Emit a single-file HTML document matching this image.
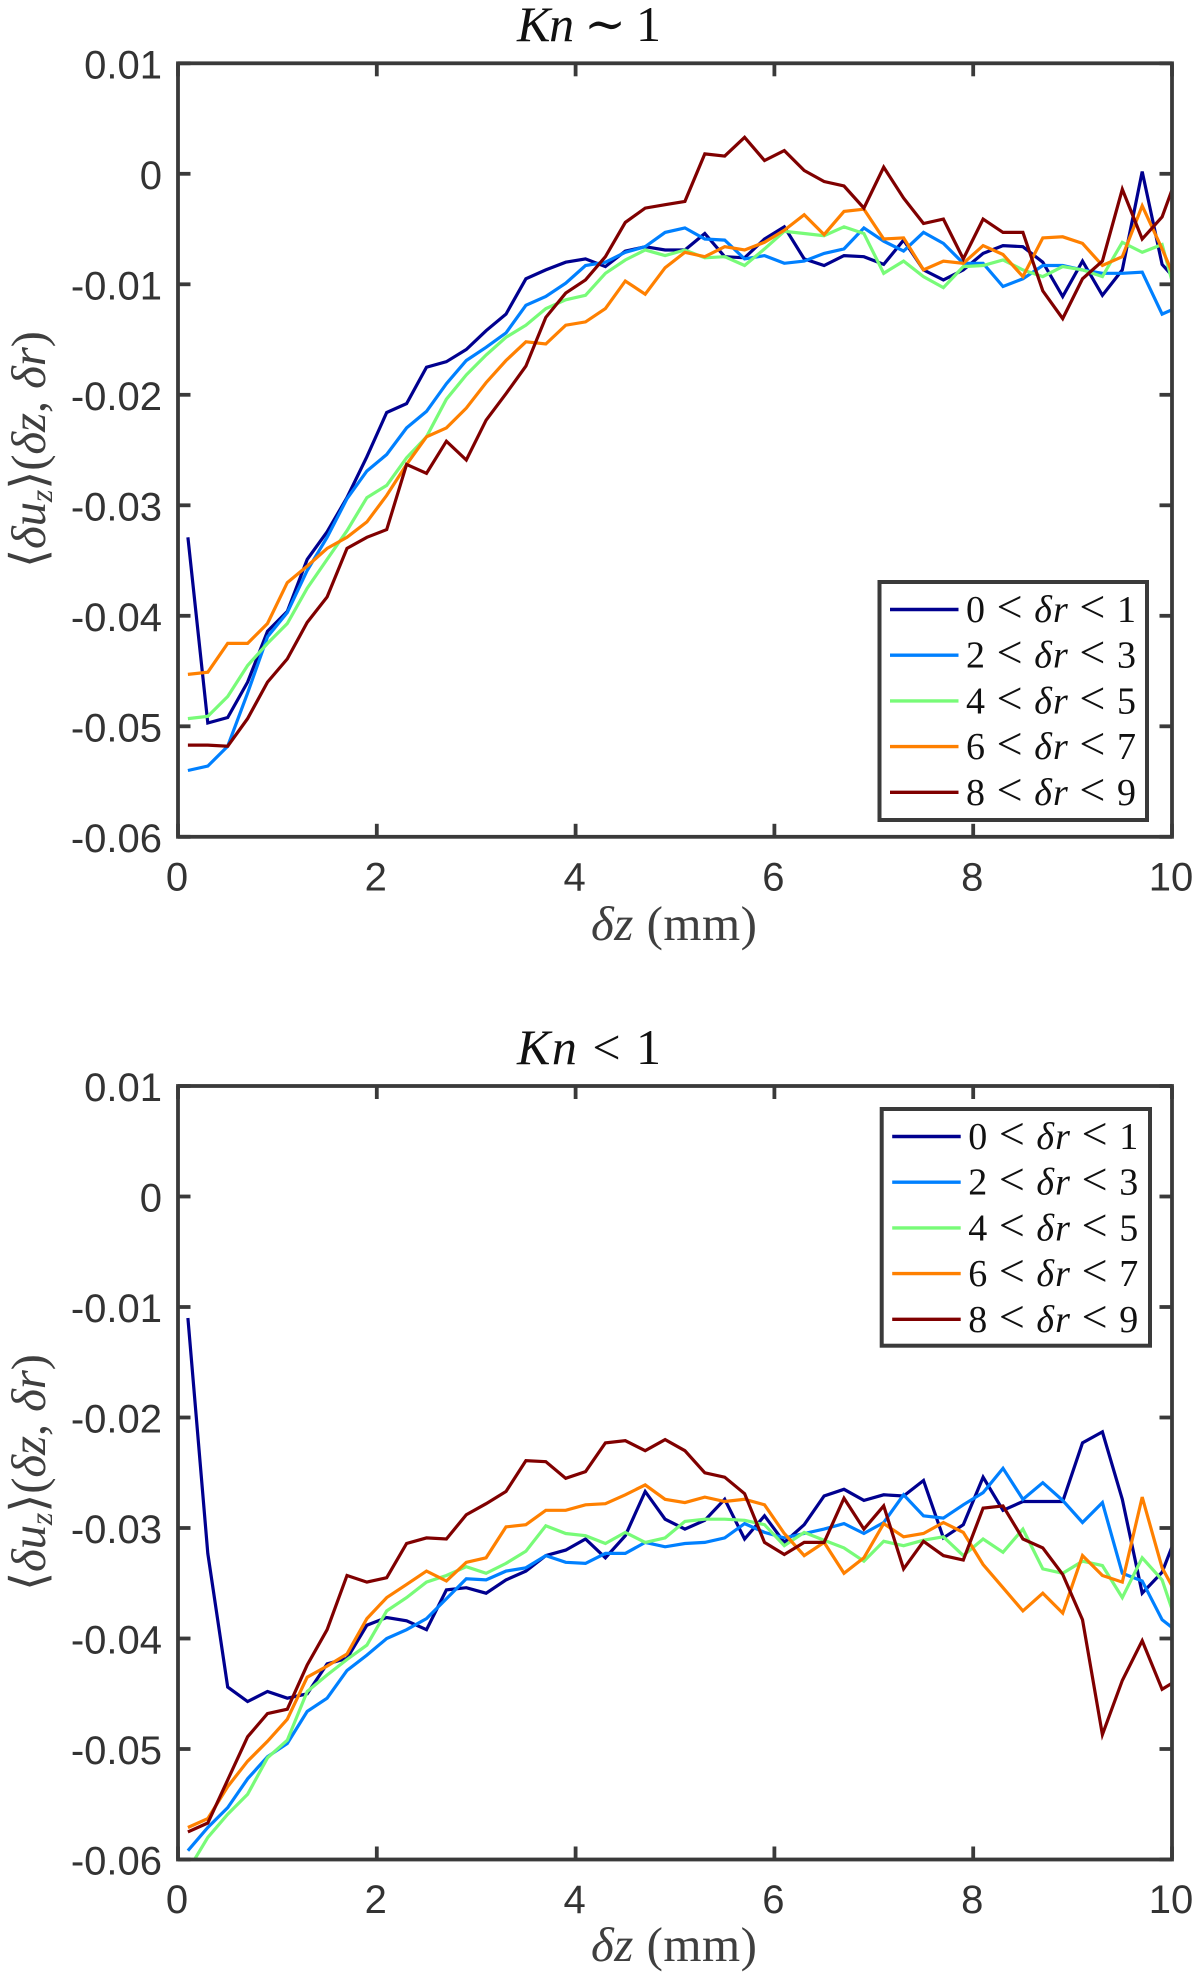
<!DOCTYPE html>
<html lang="en">
<head>
<meta charset="utf-8">
<title>Velocity structure functions for two Knudsen regimes</title>
<style>
html,body{margin:0;padding:0;background:#fff;}
svg{display:block;}
.tick{font-family:"Liberation Sans",sans-serif;font-size:40px;fill:#333;}
.math{font-family:"Liberation Serif","DejaVu Serif",serif;fill:#3f3f3f;}
.title{font-family:"Liberation Serif","DejaVu Serif",serif;font-size:50px;fill:#111;}
.leg{font-family:"Liberation Serif","DejaVu Serif",serif;font-size:38px;fill:#111;}
.it{font-style:italic;}
</style>
</head>
<body>
<svg id="figure" xmlns="http://www.w3.org/2000/svg" width="1200" height="1977" viewBox="0 0 1200 1977">
  <rect width="1200" height="1977" fill="#fff"/>
  <defs>
    <clipPath id="clip-top"><rect x="178" y="63.3" width="994" height="773.5"/></clipPath>
    <clipPath id="clip-bottom"><rect x="178" y="1086" width="994" height="773.5"/></clipPath>
  </defs>
  <g id="panel-top">
    <text class="title" x="517" y="41" textLength="144" lengthAdjust="spacing"><tspan class="it">Kn</tspan> ∼ 1</text>
    <text class="math" x="591" y="940" font-size="49" textLength="166" lengthAdjust="spacing"><tspan class="it">δz</tspan> (mm)</text>
    <text class="math" transform="translate(45,568) rotate(-90)" font-size="49" textLength="237" lengthAdjust="spacing">⟨<tspan class="it">δu</tspan><tspan class="it" font-size="32" dy="7">z</tspan><tspan dy="-7">⟩(</tspan><tspan class="it">δz</tspan>, <tspan class="it">δr</tspan>)</text>
  </g>
  <g id="panel-bottom">
    <text class="title" x="517" y="1064" textLength="144" lengthAdjust="spacing"><tspan class="it">Kn</tspan> &lt; 1</text>
    <text class="math" x="591" y="1961" font-size="49" textLength="166" lengthAdjust="spacing"><tspan class="it">δz</tspan> (mm)</text>
    <text class="math" transform="translate(45,1591) rotate(-90)" font-size="49" textLength="237" lengthAdjust="spacing">⟨<tspan class="it">δu</tspan><tspan class="it" font-size="32" dy="7">z</tspan><tspan dy="-7">⟩(</tspan><tspan class="it">δz</tspan>, <tspan class="it">δr</tspan>)</text>
  </g>
</svg>
<script>
var xTicks = [0, 2, 4, 6, 8, 10];
var xTickLabels = ['0', '2', '4', '6', '8', '10'];
var yTicks = [0.01, 0, -0.01, -0.02, -0.03, -0.04, -0.05, -0.06];
var yTickLabels = ['0.01', '0', '-0.01', '-0.02', '-0.03', '-0.04', '-0.05', '-0.06'];
var deltaZ = [0.1,0.3,0.5,0.7,0.9,1.1,1.3,1.5,1.7,1.9,2.1,2.3,2.5,2.7,2.9,3.1,3.3,3.5,3.7,3.9,4.1,4.3,4.5,4.7,4.9,5.1,5.3,5.5,5.7,5.9,6.1,6.3,6.5,6.7,6.9,7.1,7.3,7.5,7.7,7.9,8.1,8.3,8.5,8.7,8.9,9.1,9.3,9.5,9.7,9.9,10.1];
var seriesNames = ['0-to-1', '2-to-3', '4-to-5', '6-to-7', '8-to-9'];
var seriesLow = ['0', '2', '4', '6', '8'];
var seriesHigh = ['1', '3', '5', '7', '9'];
var seriesColors = ['#00008f', '#0080ff', '#78fb78', '#ff8000', '#800000'];

/* values in units of 0.001 */
var topR01 = [-32.9,-49.7,-49.2,-46,-41.4,-39.6,-34.9,-32.4,-29.3,-25.6,-21.6,-20.8,-17.5,-17,-15.9,-14.2,-12.7,-9.5,-8.7,-8.0,-7.7,-8.4,-7.0,-6.6,-6.9,-6.9,-5.4,-7.5,-7.6,-5.9,-4.8,-7.7,-8.3,-7.4,-7.5,-8.2,-6.0,-8.7,-9.6,-8.7,-7.2,-6.5,-6.6,-8.0,-11.1,-7.9,-11.0,-8.7,0.2,-8.2,-10.2];
var topR23 = [-54.0,-53.6,-51.8,-47,-41.9,-39.7,-35.9,-32.9,-29.4,-26.9,-25.4,-23.0,-21.5,-19,-16.9,-15.7,-14.4,-11.9,-11.1,-9.9,-8.3,-8.0,-7.1,-6.6,-5.3,-4.9,-5.9,-6.0,-7.7,-7.4,-8.1,-7.9,-7.2,-6.8,-4.9,-6.1,-7.0,-5.3,-6.3,-8.1,-8.1,-10.2,-9.5,-8.3,-8.3,-8.7,-9.0,-9.0,-8.9,-12.7,-11.9];
var topR45 = [-49.3,-49.1,-47.3,-44.5,-42.5,-40.7,-37.5,-34.9,-32.3,-29.3,-28.2,-25.7,-23.8,-20.4,-18.2,-16.4,-14.8,-13.7,-12.2,-11.4,-11.0,-9.0,-7.8,-6.9,-7.4,-6.9,-7.6,-7.5,-8.3,-6.8,-5.2,-5.4,-5.6,-4.8,-5.4,-9.0,-7.9,-9.3,-10.3,-8.4,-8.3,-7.8,-8.7,-9.3,-8.4,-8.7,-9.3,-6.2,-7.1,-6.4,-13];
var topR67 = [-45.3,-45.1,-42.5,-42.5,-40.7,-37,-35.5,-33.9,-32.9,-31.5,-29.1,-26.3,-23.8,-23,-21.2,-18.9,-16.9,-15.2,-15.4,-13.7,-13.4,-12.2,-9.7,-10.9,-8.5,-7.1,-7.5,-6.6,-6.9,-6.2,-5.1,-3.7,-5.5,-3.4,-3.2,-5.9,-5.8,-8.7,-7.9,-8.1,-6.5,-7.3,-9.3,-5.8,-5.7,-6.3,-8.3,-7.5,-2.9,-6.8,-11];
var topR89 = [-51.7,-51.7,-51.8,-49.3,-46,-43.9,-40.6,-38.3,-33.9,-32.9,-32.2,-26.3,-27.1,-24.2,-25.9,-22.3,-19.9,-17.4,-13,-10.8,-9.6,-7.5,-4.4,-3.1,-2.8,-2.5,1.8,1.6,3.3,1.2,2.1,0.3,-0.7,-1.1,-3.1,0.6,-2.2,-4.5,-4.1,-7.7,-4.1,-5.3,-5.3,-10.6,-13.1,-9.5,-7.9,-1.4,-5.9,-3.9,1.0];

var botR01 = [-11.0,-32.3,-44.4,-45.7,-44.8,-45.4,-45,-42.3,-41.8,-38.8,-38.1,-38.4,-39.2,-35.6,-35.4,-35.9,-34.7,-33.9,-32.5,-32,-31,-32.7,-30.7,-26.7,-29.2,-30.1,-29.3,-27.4,-31,-28.9,-31.3,-29.7,-27.1,-26.5,-27.5,-27,-27.1,-25.7,-30.9,-29.7,-25.4,-28.4,-27.6,-27.6,-27.6,-22.3,-21.3,-27.4,-35.9,-34,-29.4];
var botR23 = [-59.2,-57.1,-55.3,-52.7,-50.7,-49.5,-46.6,-45.4,-42.9,-41.5,-40,-39.2,-38.2,-36.4,-34.6,-34.7,-33.9,-33.6,-32.5,-33.1,-33.2,-32.3,-32.3,-31.3,-31.7,-31.4,-31.3,-30.9,-29.6,-30.4,-30.9,-30.5,-30.1,-29.6,-30.5,-29.5,-27,-28.9,-29.1,-27.9,-26.8,-24.6,-27.4,-25.9,-27.5,-29.5,-27.7,-34.1,-34.8,-38.3,-39.7];
var botR45 = [-61,-58,-55.9,-54.1,-50.8,-49.2,-44.8,-43.3,-41.9,-40.6,-37.5,-36.3,-34.9,-34.3,-33.5,-34.1,-33.2,-32.1,-29.8,-30.5,-30.7,-31.4,-30.4,-31.3,-30.9,-29.4,-29.2,-29.2,-29.3,-29.7,-31.6,-30.4,-31.1,-31.8,-33,-31.2,-31.6,-31.1,-30.8,-32.5,-31,-32.2,-30.1,-33.7,-34.1,-33,-33.4,-36.3,-32.7,-34.7,-40];
var botR67 = [-57.1,-56.3,-53.4,-51.1,-49.3,-47.3,-43.5,-42.5,-41.4,-38.2,-36.3,-35.1,-33.9,-34.8,-33.1,-32.7,-29.9,-29.7,-28.4,-28.4,-27.9,-27.8,-27,-26.1,-27.4,-27.7,-27.2,-27.6,-27.4,-27.9,-30.5,-32.5,-31.3,-34.1,-32.7,-29.6,-30.8,-30.5,-29.5,-30.4,-33.3,-35.4,-37.5,-35.9,-37.7,-32.5,-34.3,-34.9,-27.2,-33.6,-36.9];
var botR89 = [-57.5,-56.7,-52.8,-48.9,-46.8,-46.4,-42.4,-39.2,-34.3,-34.9,-34.5,-31.4,-30.9,-31,-28.8,-27.8,-26.7,-23.9,-24,-25.5,-24.9,-22.3,-22.1,-23,-22,-23,-25,-25.4,-26.9,-31.3,-32.4,-31.3,-31.3,-27.3,-30.1,-28,-33.7,-31.2,-32.5,-32.9,-28.2,-28,-31,-31.8,-34.2,-38.3,-48.7,-43.8,-40.2,-44.6,-43.5];

var topSeries = [topR01, topR23, topR45, topR67, topR89];
var botSeries = [botR01, botR23, botR45, botR67, botR89];

var NS = 'http://www.w3.org/2000/svg';
var AXIS_COLOR = '#3a3a3a';
var AXIS_W = 3.8;
var PLOT_L = 178, PLOT_R = 1172;

function xScale(v) { return PLOT_L + (v / 10) * (PLOT_R - PLOT_L); }
function yScaleFor(top, bottom) {
  return function (v) { return top + ((0.01 - v) / 0.07) * (bottom - top); };
}
function line(parent, x1, y1, x2, y2, color, w) {
  var l = document.createElementNS(NS, 'line');
  l.setAttribute('x1', x1);
  l.setAttribute('y1', y1);
  l.setAttribute('x2', x2);
  l.setAttribute('y2', y2);
  l.setAttribute('stroke', color);
  l.setAttribute('stroke-width', w);
  parent.appendChild(l);
  return l;
}
function addLess(parent) {
  var lt = document.createElementNS(NS, 'tspan');
  lt.setAttribute('font-size', '46');
  lt.textContent = '<';
  parent.appendChild(lt);
}

function drawPanel(groupId, clipId, top, bottom, series, legend) {
  var g = document.getElementById(groupId);
  var y = yScaleFor(top, bottom);
  var i, t, el;

  var linesG = document.createElementNS(NS, 'g');
  
  
  linesG.setAttribute('clip-path', 'url(#' + clipId + ')');
  g.appendChild(linesG);

  series.forEach(function (vals, s) {
    var pts = vals.map(function (v, k) {
      return xScale(deltaZ[k]).toFixed(1) + ',' + y(v / 1000).toFixed(1);
    }).join(' ');
    var p = document.createElementNS(NS, 'polyline');
    
    
    p.setAttribute('points', pts);
    p.setAttribute('fill', 'none');
    p.setAttribute('stroke', seriesColors[s]);
    p.setAttribute('stroke-width', '3.2');
    p.setAttribute('stroke-linejoin', 'miter');
    linesG.appendChild(p);
  });

  var axes = document.createElementNS(NS, 'g');
  
  
  g.appendChild(axes);

  var box = document.createElementNS(NS, 'rect');
  
  
  box.setAttribute('x', PLOT_L);
  box.setAttribute('y', top);
  box.setAttribute('width', PLOT_R - PLOT_L);
  box.setAttribute('height', bottom - top);
  box.setAttribute('fill', 'none');
  box.setAttribute('stroke', AXIS_COLOR);
  box.setAttribute('stroke-width', AXIS_W);
  axes.appendChild(box);

  for (i = 0; i < xTicks.length; i++) {
    var xp = xScale(xTicks[i]);
    el = line(axes, xp, top, xp, top + 13, AXIS_COLOR, AXIS_W);
    
    
    el = line(axes, xp, bottom, xp, bottom - 13, AXIS_COLOR, AXIS_W);
    
    
    t = document.createElementNS(NS, 'text');
    
    
    t.setAttribute('class', 'tick');
    t.setAttribute('x', xp - 1);
    t.setAttribute('y', bottom + 53.5);
    t.setAttribute('text-anchor', 'middle');
    t.textContent = xTickLabels[i];
    g.appendChild(t);
  }
  for (i = 0; i < yTicks.length; i++) {
    var yp = y(yTicks[i]);
    el = line(axes, PLOT_L, yp, PLOT_L + 12.5, yp, AXIS_COLOR, AXIS_W);
    
    
    el = line(axes, PLOT_R, yp, PLOT_R - 12.5, yp, AXIS_COLOR, AXIS_W);
    
    
    t = document.createElementNS(NS, 'text');
    
    
    t.setAttribute('class', 'tick');
    t.setAttribute('x', 162);
    t.setAttribute('y', yp + 15);
    t.setAttribute('text-anchor', 'end');
    t.textContent = yTickLabels[i];
    g.appendChild(t);
  }

  var lg = document.createElementNS(NS, 'g');
  
  
  g.appendChild(lg);

  var lb = document.createElementNS(NS, 'rect');
  
  
  lb.setAttribute('x', legend.x);
  lb.setAttribute('y', legend.y);
  lb.setAttribute('width', legend.w);
  lb.setAttribute('height', legend.h);
  lb.setAttribute('fill', '#fff');
  lb.setAttribute('stroke', AXIS_COLOR);
  lb.setAttribute('stroke-width', '4');
  lg.appendChild(lb);

  seriesNames.forEach(function (name, s) {
    var ry = legend.y + 27.5 + s * 45.7;
    var sw = line(lg, legend.x + 10.5, ry, legend.x + 79, ry, seriesColors[s], 3.4);
    
    
    var tx = document.createElementNS(NS, 'text');
    
    
    tx.setAttribute('class', 'leg');
    tx.setAttribute('x', legend.x + 86.5);
    tx.setAttribute('y', ry + 12.5);
    tx.setAttribute('textLength', '170');
    tx.setAttribute('lengthAdjust', 'spacing');
    tx.appendChild(document.createTextNode(seriesLow[s] + ' '));
    addLess(tx);
    tx.appendChild(document.createTextNode(' '));
    var it = document.createElementNS(NS, 'tspan');
    it.setAttribute('class', 'it');
    it.textContent = 'δr';
    tx.appendChild(it);
    tx.appendChild(document.createTextNode(' '));
    addLess(tx);
    tx.appendChild(document.createTextNode(' ' + seriesHigh[s]));
    lg.appendChild(tx);
  });
}

drawPanel('panel-top', 'clip-top', 63.3, 836.8, topSeries, { x: 879.5, y: 582, w: 267.5, h: 238 });
drawPanel('panel-bottom', 'clip-bottom', 1086, 1859.5, botSeries, { x: 881.7, y: 1109, w: 268.3, h: 236.7 });
</script>
</body>
</html>
